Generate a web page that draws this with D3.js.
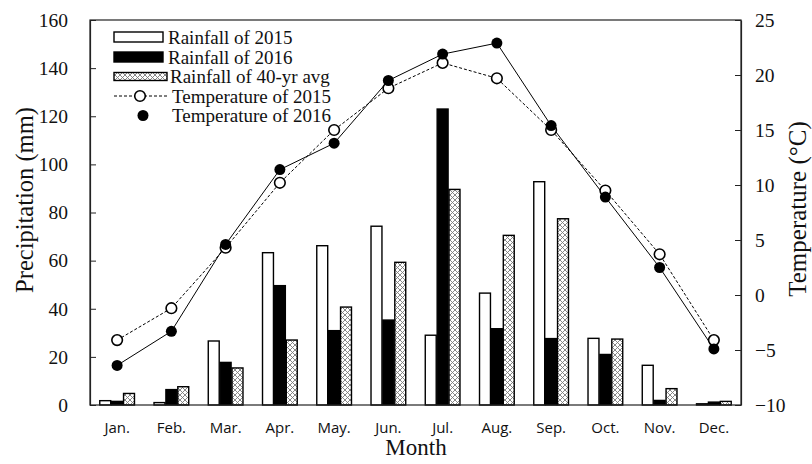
<!DOCTYPE html>
<html>
<head>
<meta charset="utf-8">
<script src="https://cdn.jsdelivr.net/npm/d3@7"></script>
<style>
  html, body { margin: 0; padding: 0; background: #fff; }
  svg { display: block; }
</style>
</head>
<body>
<svg id="chart" width="812" height="464"></svg>
<script>
const months = ["Jan.", "Feb.", "Mar.", "Apr.", "May.", "Jun.", "Jul.", "Aug.", "Sep.", "Oct.", "Nov.", "Dec."];
const rain2015 = [1.8, 1.0, 26.6, 63.3, 66.2, 74.3, 29.0, 46.5, 92.8, 27.7, 16.5, 0.5];
const rain2016 = [1.5, 6.4, 17.7, 49.6, 30.9, 35.3, 123.0, 31.7, 27.6, 21.0, 1.9, 1.2];
const rainAvg = [4.8, 7.6, 15.4, 27.0, 40.7, 59.3, 89.6, 70.5, 77.4, 27.4, 6.8, 1.5];
const temp2015 = [-4.1, -1.2, 4.3, 10.2, 15.0, 18.8, 21.1, 19.7, 15.0, 9.5, 3.7, -4.1];
const temp2016 = [-6.4, -3.3, 4.6, 11.4, 13.8, 19.5, 21.9, 22.9, 15.4, 8.9, 2.5, -4.9];
const precipTicks = [0, 20, 40, 60, 80, 100, 120, 140, 160];
const tempTicks = [-10, -5, 0, 5, 10, 15, 20, 25];
const rainSeries = ["Rainfall of 2015", "Rainfall of 2016", "Rainfall of 40-yr avg"];
const tempSeries = ["Temperature of 2015", "Temperature of 2016"];

const svg = d3.select("#chart");
const L = 90, R = 741, T = 20, B = 405;
const serif = "'Liberation Serif', 'Times New Roman', serif";
const sans = "'Open Sans', 'Noto Sans', sans-serif";

// hatch pattern
const defs = svg.append("defs");
const pat = defs.append("pattern").attr("id", "hatch")
  .attr("patternUnits", "userSpaceOnUse").attr("width", 5).attr("height", 5);
pat.append("rect").attr("width", 5).attr("height", 5).attr("fill", "#fff");
pat.append("path").attr("d", "M0,0L5,5M5,0L0,5M-1,4L1,6M4,-1L6,1M-1,1L1,-1M4,6L6,4")
  .attr("stroke", "#7a7a7a").attr("stroke-width", 0.9).attr("fill", "none");

const x0 = d3.scaleBand().domain(months).range([L, R]).paddingInner(0.36).paddingOuter(0.18);
const x1 = d3.scaleBand().domain(rainSeries).range([0, x0.bandwidth()]).paddingInner(0.08);
const yP = d3.scaleLinear().domain([0, 160]).range([B, T]);
const yT = d3.scaleLinear().domain([-10, 25]).range([B, T]);

const rainData = [rain2015, rain2016, rainAvg];
const fills = ["#fff", "#000", "url(#hatch)"];

// bars
rainSeries.forEach((s, si) => {
  svg.append("g").selectAll("rect").data(months).join("rect")
    .attr("x", m => x0(m) + x1(s))
    .attr("width", x1.bandwidth())
    .attr("y", (m, i) => yP(rainData[si][i]))
    .attr("height", (m, i) => B - yP(rainData[si][i]))
    .attr("fill", fills[si])
    .attr("stroke", "#000").attr("stroke-width", 1.4);
});

// frame
svg.append("rect").attr("x", L).attr("y", T).attr("width", R - L).attr("height", B - T)
  .attr("fill", "none").attr("stroke", "#222").attr("stroke-width", 1.2);

// axes
const axL = svg.append("g").attr("transform", `translate(${L},0)`)
  .call(d3.axisLeft(yP).tickValues(precipTicks).tickSizeInner(-6).tickSizeOuter(0).tickPadding(22));
const axR = svg.append("g").attr("transform", `translate(${R},0)`)
  .call(d3.axisRight(yT).tickValues(tempTicks).tickSizeInner(-6).tickSizeOuter(0).tickPadding(14));
[axL, axR].forEach(a => {
  a.select(".domain").attr("stroke", "#222").attr("stroke-width", 1.2);
  a.selectAll(".tick line").attr("stroke", "#222").attr("stroke-width", 1);
  a.selectAll(".tick text").attr("font-family", serif).attr("font-size", 19.5).attr("fill", "#111");
});

// month labels
const axB = svg.append("g").attr("transform", `translate(0,${B})`)
  .call(d3.axisBottom(x0).tickSize(0).tickPadding(17));
axB.select(".domain").remove();
axB.selectAll(".tick text").attr("font-family", sans).attr("font-size", 15).attr("fill", "#111");

// temperature lines
const xc = m => x0(m) + x0.bandwidth() / 2;
const line2015 = d3.line().x((d, i) => xc(months[i])).y(d => yT(d));
svg.append("path").datum(temp2015).attr("d", line2015)
  .attr("fill", "none").attr("stroke", "#000").attr("stroke-width", 1).attr("stroke-dasharray", "3,2");
svg.append("path").datum(temp2016).attr("d", line2015)
  .attr("fill", "none").attr("stroke", "#000").attr("stroke-width", 1);
svg.append("g").selectAll("circle").data(temp2015).join("circle")
  .attr("cx", (d, i) => xc(months[i])).attr("cy", d => yT(d)).attr("r", 5.3)
  .attr("fill", "#fff").attr("stroke", "#000").attr("stroke-width", 1.6);
svg.append("g").selectAll("circle").data(temp2016).join("circle")
  .attr("cx", (d, i) => xc(months[i])).attr("cy", d => yT(d)).attr("r", 5.5)
  .attr("fill", "#000");

// axis titles
svg.append("text").attr("transform", "translate(24,200) rotate(-90)")
  .attr("text-anchor", "middle").attr("dominant-baseline", "central")
  .attr("font-family", serif).attr("font-size", 24.5).attr("fill", "#111")
  .text("Precipitation (mm)");
svg.append("text").attr("transform", "translate(797,209) rotate(-90)")
  .attr("text-anchor", "middle").attr("dominant-baseline", "central")
  .attr("font-family", serif).attr("font-size", 25).attr("fill", "#111")
  .text("Temperature (°C)");
svg.append("text").attr("x", 416).attr("y", 455).attr("text-anchor", "middle")
  .attr("font-family", serif).attr("font-size", 23).attr("fill", "#111")
  .text("Month");

// legend
const lg = svg.append("g");
const rowY = [37, 57, 76.5, 96, 115.5];
rainSeries.forEach((s, i) => {
  lg.append("rect").attr("x", 114).attr("y", rowY[i] - (i === 2 ? 4 : 5))
    .attr("width", i === 2 ? 53 : 49).attr("height", i === 2 ? 8 : 10)
    .attr("fill", fills[i]).attr("stroke", "#000").attr("stroke-width", 1.4);
  lg.append("text").attr("x", i === 2 ? 170 : 168).attr("y", rowY[i]).attr("dominant-baseline", "central")
    .attr("font-family", serif).attr("font-size", 19).attr("fill", "#111").text(s);
});
lg.append("line").attr("x1", 114).attr("x2", 167).attr("y1", rowY[3]).attr("y2", rowY[3])
  .attr("stroke", "#000").attr("stroke-width", 1).attr("stroke-dasharray", "3,2");
lg.append("circle").attr("cx", 140).attr("cy", rowY[3]).attr("r", 5.3)
  .attr("fill", "#fff").attr("stroke", "#000").attr("stroke-width", 1.6);
lg.append("circle").attr("cx", 143).attr("cy", rowY[4]).attr("r", 5.5).attr("fill", "#000");
tempSeries.forEach((s, i) => {
  lg.append("text").attr("x", 172).attr("y", rowY[3 + i]).attr("dominant-baseline", "central")
    .attr("font-family", serif).attr("font-size", 19).attr("fill", "#111").text(s);
});
</script>
</body>
</html>
